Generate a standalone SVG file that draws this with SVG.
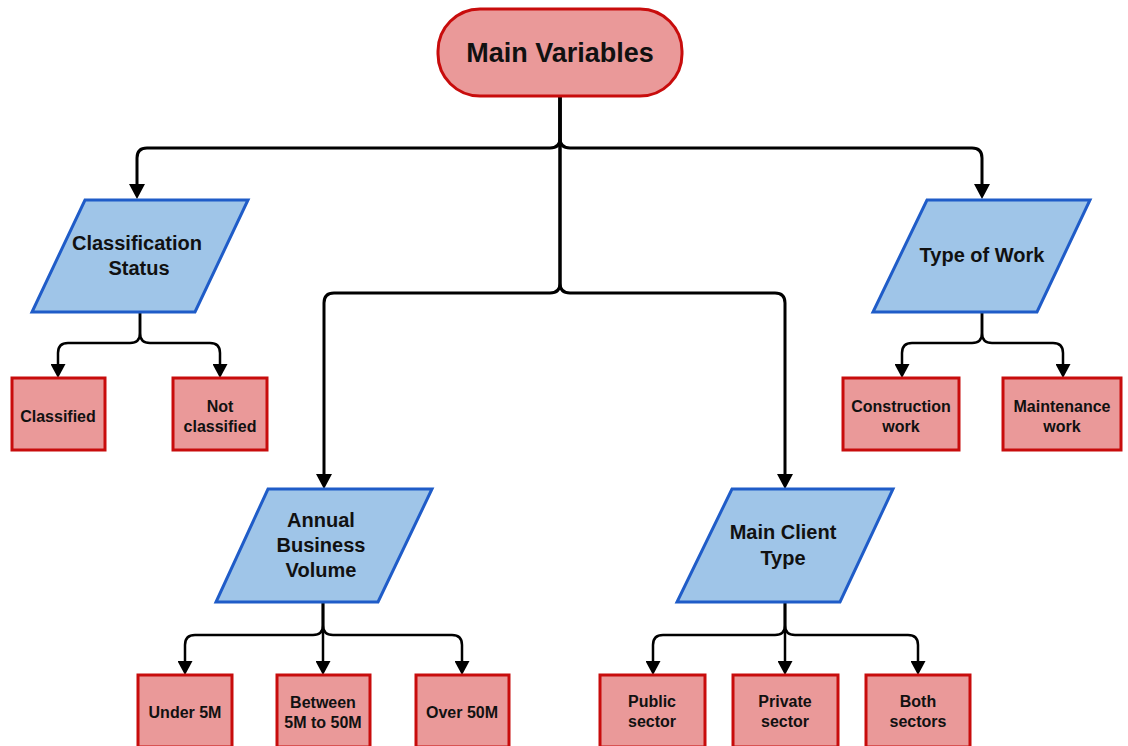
<svg xmlns="http://www.w3.org/2000/svg" width="1128" height="746" viewBox="0 0 1128 746">
  <style>
    .root { fill: #EA9999; stroke: #C80C0C; stroke-width: 3; }
    .cat { fill: #9FC5E8; stroke: #1F5CC8; stroke-width: 3; }
    .leaf { fill: #EA9999; stroke: #C80C0C; stroke-width: 3; }
    .edge { fill: none; stroke: #000; stroke-width: 3; }
    .sub { fill: none; stroke: #000; stroke-width: 2.5; }
    text { font-family: "Liberation Sans", Arial, sans-serif; font-weight: bold; fill: #111; text-anchor: middle; }
    .t-root { font-size: 27px; }
    .t-cat { font-size: 20px; }
    .t-leaf { font-size: 16px; }
  </style>
  <defs>
    <marker id="arrow" markerUnits="userSpaceOnUse" markerWidth="16" markerHeight="16" refX="0" refY="8" orient="auto">
      <path d="M0,0 L15,8 L0,16 z" fill="#000"/>
    </marker>
    <marker id="arrow-sm" markerUnits="userSpaceOnUse" markerWidth="15" markerHeight="15" refX="0" refY="7.5" orient="auto">
      <path d="M0,0 L14,7.5 L0,15 z" fill="#000"/>
    </marker>
  </defs>
  <rect width="1128" height="746" fill="#fff"/>

  <!-- connectors -->
  <g id="connectors">
    <path class="edge" marker-end="url(#arrow)" d="M560,97 V138 Q560,148 550,148 H147 Q137,148 137,158 V184"/>
    <path class="edge" marker-end="url(#arrow)" d="M560,97 V138 Q560,148 570,148 H972 Q982,148 982,158 V184"/>
    <path class="edge" marker-end="url(#arrow)" d="M560,97 V283 Q560,293 550,293 H334 Q324,293 324,303 V474"/>
    <path class="edge" marker-end="url(#arrow)" d="M560,97 V283 Q560,293 570,293 H775 Q785,293 785,303 V474"/>

    <path class="sub" marker-end="url(#arrow-sm)" d="M140,312 V333 Q140,343 130,343 H68 Q58,343 58,353 V364"/>
    <path class="sub" marker-end="url(#arrow-sm)" d="M140,312 V333 Q140,343 150,343 H210 Q220,343 220,353 V364"/>

    <path class="sub" marker-end="url(#arrow-sm)" d="M982,312 V333 Q982,343 972,343 H912 Q902,343 902,353 V364"/>
    <path class="sub" marker-end="url(#arrow-sm)" d="M982,312 V333 Q982,343 992,343 H1053 Q1063,343 1063,353 V364"/>

    <path class="sub" marker-end="url(#arrow-sm)" d="M323,602 V625 Q323,635 313,635 H195 Q185,635 185,645 V661"/>
    <path class="sub" marker-end="url(#arrow-sm)" d="M323,602 V661"/>
    <path class="sub" marker-end="url(#arrow-sm)" d="M323,602 V625 Q323,635 333,635 H452 Q462,635 462,645 V661"/>

    <path class="sub" marker-end="url(#arrow-sm)" d="M785,602 V625 Q785,635 775,635 H663 Q653,635 653,645 V661"/>
    <path class="sub" marker-end="url(#arrow-sm)" d="M785,602 V661"/>
    <path class="sub" marker-end="url(#arrow-sm)" d="M785,602 V625 Q785,635 795,635 H908 Q918,635 918,645 V661"/>
  </g>

  <!-- root -->
  <g id="main-variables">
    <rect class="root" x="438" y="9" width="244" height="87" rx="42" ry="42"/>
    <text class="t-root" x="560" y="62">Main Variables</text>
  </g>

  <!-- categories -->
  <g id="classification-status">
    <polygon class="cat" points="85,200 248,200 195,312 32,312"/>
    <text class="t-cat" x="137" y="250">Classification</text>
    <text class="t-cat" x="139" y="275">Status</text>
  </g>
  <g id="type-of-work">
    <polygon class="cat" points="927,200 1090,200 1037,312 873,312"/>
    <text class="t-cat" x="982" y="262">Type of Work</text>
  </g>
  <g id="annual-business-volume">
    <polygon class="cat" points="268,489 432,489 378,602 216,602"/>
    <text class="t-cat" x="321" y="527">Annual</text>
    <text class="t-cat" x="321" y="552">Business</text>
    <text class="t-cat" x="321" y="577">Volume</text>
  </g>
  <g id="main-client-type">
    <polygon class="cat" points="732,489 893,489 840,602 677,602"/>
    <text class="t-cat" x="783" y="539">Main Client</text>
    <text class="t-cat" x="783" y="565">Type</text>
  </g>

  <!-- leaves -->
  <g id="classified">
    <rect class="leaf" x="12" y="378" width="93" height="72"/>
    <text class="t-leaf" x="58" y="422">Classified</text>
  </g>
  <g id="not-classified">
    <rect class="leaf" x="173" y="378" width="94" height="72"/>
    <text class="t-leaf" x="220" y="412">Not</text>
    <text class="t-leaf" x="220" y="432">classified</text>
  </g>
  <g id="construction-work">
    <rect class="leaf" x="843" y="378" width="116" height="72"/>
    <text class="t-leaf" x="901" y="412">Construction</text>
    <text class="t-leaf" x="901" y="432">work</text>
  </g>
  <g id="maintenance-work">
    <rect class="leaf" x="1003" y="378" width="118" height="72"/>
    <text class="t-leaf" x="1062" y="412">Maintenance</text>
    <text class="t-leaf" x="1062" y="432">work</text>
  </g>
  <g id="under-5m">
    <rect class="leaf" x="138" y="675" width="94" height="72"/>
    <text class="t-leaf" x="185" y="718">Under 5M</text>
  </g>
  <g id="between-5m-50m">
    <rect class="leaf" x="277" y="675" width="93" height="72"/>
    <text class="t-leaf" x="323" y="708">Between</text>
    <text class="t-leaf" x="323" y="728">5M to 50M</text>
  </g>
  <g id="over-50m">
    <rect class="leaf" x="416" y="675" width="93" height="72"/>
    <text class="t-leaf" x="462" y="718">Over 50M</text>
  </g>
  <g id="public-sector">
    <rect class="leaf" x="600" y="675" width="105" height="72"/>
    <text class="t-leaf" x="652" y="707">Public</text>
    <text class="t-leaf" x="652" y="727">sector</text>
  </g>
  <g id="private-sector">
    <rect class="leaf" x="733" y="675" width="105" height="72"/>
    <text class="t-leaf" x="785" y="707">Private</text>
    <text class="t-leaf" x="785" y="727">sector</text>
  </g>
  <g id="both-sectors">
    <rect class="leaf" x="866" y="675" width="104" height="72"/>
    <text class="t-leaf" x="918" y="707">Both</text>
    <text class="t-leaf" x="918" y="727">sectors</text>
  </g>
</svg>
